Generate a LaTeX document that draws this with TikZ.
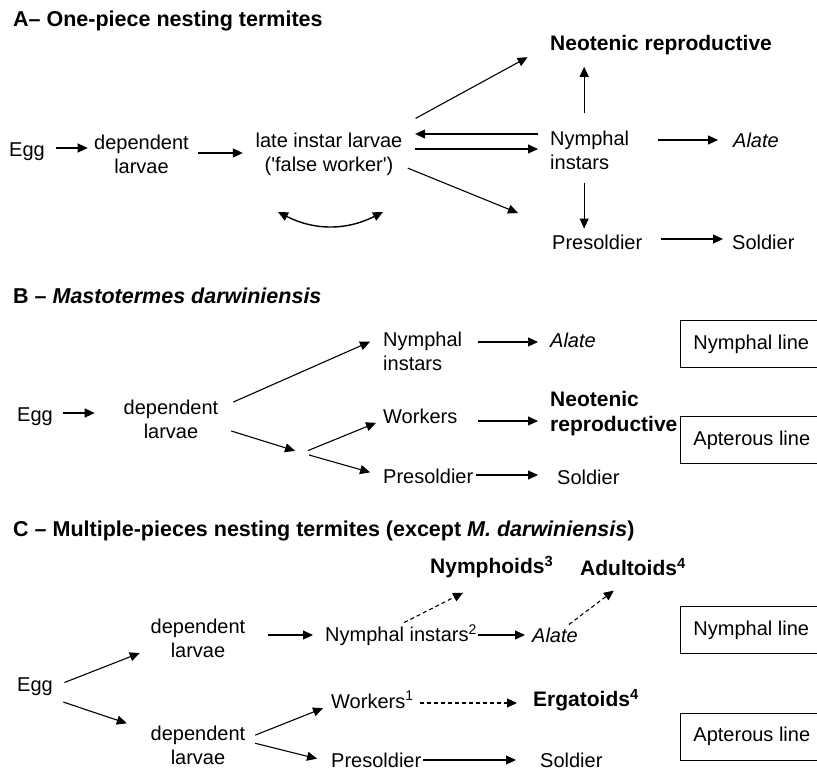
\documentclass[tikz,border=0pt]{standalone}
\usepackage{fontspec}
\setmainfont{Liberation Sans}
\usetikzlibrary{arrows.meta}

\tikzset{
  txt/.style={inner sep=0pt, font=\fontsize{20}{24}\selectfont},
  txtb/.style={inner sep=0pt, font=\fontsize{21}{25}\selectfont\bfseries},
  ttl/.style={inner sep=0pt, anchor=west, font=\fontsize{21.5}{24}\selectfont\bfseries},
  arr/.style={-{Triangle[length=10pt,width=9pt]}, line width=1.1pt},
  darr/.style={arr, dash pattern=on 4pt off 3pt},
  twoarr/.style={{Triangle[length=10pt,width=9pt]}-{Triangle[length=10pt,width=9pt]}, line width=1.4pt},
  linebox/.style={draw, line width=0.9pt, anchor=west, inner xsep=13pt, minimum height=47pt, font=\fontsize{20}{24}\selectfont},
}

\begin{document}
\begin{tikzpicture}[x=1pt,y=-1pt]
\fill[white] (0,0) rectangle (817,772);
\useasboundingbox (0,0) rectangle (817,772);

% A -- one-piece nesting termites
\node[ttl] (ttlA) at (13,21) {A– One-piece nesting termites};
\node[txt, anchor=west] (eggA) at (9,152) {Egg};
\node[txt, align=center] (depA) at (141.5,154) {dependent\\larvae};
\node[txt, align=center] (lateA) at (329,154) {late instar larvae\\(\textquotesingle false worker\textquotesingle)};
\node[txtb, anchor=west] (neoA) at (550,45) {Neotenic reproductive};
\node[txt, anchor=west, align=left] (nymA) at (550,150) {Nymphal\\instars};
\node[txt, anchor=west] (alateA) at (733,140) {\textit{Alate}};
\node[txt, anchor=west] (presA) at (552,242) {Presoldier};
\node[txt, anchor=west] (soldA) at (732,242) {Soldier};
\coordinate (tipA) at (518,213); % free end, no node
\coordinate (loopAl) at (278,212);
\coordinate (loopAr) at (383,212);
\coordinate (nymAn) at ([xshift=-5.5pt]nymA.north);
\coordinate (nymAs) at ([xshift=-5.5pt]nymA.south);

\draw[arr, shorten <=11.4pt, shorten >=6.3pt] ([yshift=4pt]eggA.east) -- ([yshift=6pt]depA.west);
\draw[arr, shorten <=9.3pt, shorten >=12.6pt] ([yshift=1pt]depA.east) -- ([yshift=1pt]lateA.west);
\draw[arr, shorten <=14.8pt, shorten >=25.5pt] ([yshift=7pt]lateA.north east) -- (neoA.west);
\draw[arr, shorten <=12pt, shorten >=12.6pt] ([yshift=16pt]nymA.west) -- ([yshift=20pt]lateA.east);
\draw[arr, shorten <=12.6pt, shorten >=12pt] ([yshift=5pt]lateA.east) -- ([yshift=1pt]nymA.west);
\draw[arr, shorten <=5.6pt] ([yshift=-12pt]lateA.east) -- (tipA);
\draw[arr, shorten <=17pt, shorten >=11.8pt] (nymAn) -- (nymAn |- neoA.south);
\draw[arr, shorten <=13pt, shorten >=5.9pt] (nymAs) -- (nymAs |- presA.north);
\draw[arr, shorten <=29pt, shorten >=15pt] ([yshift=10pt]nymA.east) -- (alateA.west);
\draw[arr, shorten <=19pt, shorten >=9pt] ([yshift=3pt]presA.east) -- ([yshift=3pt]soldA.west);
\draw[twoarr] (loopAl) to[bend right=27] (loopAr);

% B -- Mastotermes
\node[ttl] (ttlB) at (13,296) {B – \textit{Mastotermes darwiniensis}};
\node[txt, anchor=west] (eggB) at (17,417) {Egg};
\node[txt, align=center] (depB) at (171,419) {dependent\\larvae};
\node[txt, anchor=west, align=left] (nymB) at (383,351) {Nymphal\\instars};
\node[txt, anchor=west] (workB) at (383,416) {Workers};
\node[txt, anchor=west] (presB) at (383,476) {Presoldier};
\node[txt, anchor=west] (alateB) at (550,340) {\textit{Alate}};
\node[txtb, anchor=west, align=left] (neoB) at (550,413.5) {Neotenic\\reproductive};
\node[txt, anchor=west] (soldB) at (557,477) {Soldier};
\node[linebox] (nymlineB) at (680,344) {Nymphal line};
\node[linebox] (aplineB) at (680,440) {Apterous line};
\coordinate (forkB) at (302,453); % where the apterous line splits

\draw[arr, shorten <=10.4pt, shorten >=28.8pt] ([yshift=4pt]eggB.east) -- ([yshift=6pt]depB.west);
\draw[arr, shorten <=16.2pt, shorten >=14.2pt] ([yshift=10.4pt]depB.east) -- ([yshift=-4.5pt]nymB.north west);
\draw[arr, shorten <=13.4pt, shorten >=7.3pt] ([yshift=-8pt]depB.east) -- (forkB);
\draw[arr, shorten <=6.5pt, shorten >=7.5pt] (forkB) -- ([yshift=-4pt]workB.west);
\draw[arr, shorten <=7.3pt, shorten >=13.4pt] (forkB) -- (presB.west);
\draw[arr, shorten <=16pt, shorten >=12pt] ([yshift=9pt]nymB.east) -- ([yshift=-2pt]alateB.west);
\draw[arr, shorten <=20.6pt, shorten >=12pt] ([yshift=-5pt]workB.east) -- ([yshift=-7.5pt]neoB.west);
\draw[arr, shorten <=3pt, shorten >=19pt] ([yshift=1pt]presB.east) -- ([yshift=2pt]soldB.west);

% C -- multiple-pieces nesting termites
\node[ttl] (ttlC) at (13,531) {C – Multiple-pieces nesting termites (except \textit{M. darwiniensis})};
\node[txt, anchor=west] (eggC) at (17,687) {Egg};
\node[txt, align=center] (depC) at (198,638) {dependent\\larvae};
\node[txt, align=center] (depCb) at (198,745.5) {dependent\\larvae};
\node[txt, anchor=west] (nymC) at (325,635) {Nymphal instars\textsuperscript{2}};
\node[txt, anchor=west] (alateC) at (532,635) {\textit{Alate}};
\node[txtb, anchor=west] (nymphC) at (430,567) {Nymphoids\textsuperscript{3}};
\node[txtb, anchor=west] (adultC) at (580,567) {Adultoids\textsuperscript{4}};
\node[txt, anchor=west] (workC) at (331,700) {Workers\textsuperscript{1}};
\node[txtb, anchor=west] (ergC) at (533,700) {Ergatoids\textsuperscript{4}};
\node[txt, anchor=west] (presC) at (331,760) {Presoldier};
\node[txt, anchor=west] (soldC) at (540,760) {Soldier};
\node[linebox] (nymlineC) at (680,630) {Nymphal line};
\node[linebox] (aplineC) at (680,736.5) {Apterous line};

\draw[arr, shorten <=12.3pt, shorten >=11.6pt] (eggC.east) -- ([yshift=-10.8pt]depC.west);
\draw[arr, shorten <=10.9pt, shorten >=25pt] ([yshift=-11.6pt]eggC.east) -- ([yshift=14.2pt]depCb.west);
\draw[arr, shorten <=22.8pt, shorten >=12pt] ([yshift=3pt]depC.east) -- (nymC.west);
\draw[arr, shorten <=1pt, shorten >=7pt] (nymC.east) -- (alateC.west);
\draw[darr, shorten <=3.5pt, shorten >=32pt] (nymC.north) -- (nymphC.south);
\draw[darr, shorten <=5pt, shorten >=24pt] ([xshift=10pt]alateC.north) -- (adultC.south);
\draw[arr, shorten <=10.5pt, shorten >=8.6pt] ([yshift=6.5pt]depCb.east) -- ([yshift=-5pt]workC.west);
\draw[arr, shorten <=10pt, shorten >=14.4pt] ([yshift=4.7pt]depCb.east) -- ([yshift=-2.2pt]presC.west);
\draw[darr, shorten <=6.6pt, shorten >=16pt] ([yshift=-3pt]workC.east) -- ([yshift=-3pt]ergC.west);
\draw[arr, shorten <=2pt, shorten >=24pt] (presC.east) -- (soldC.west);
\end{tikzpicture}
\end{document}
